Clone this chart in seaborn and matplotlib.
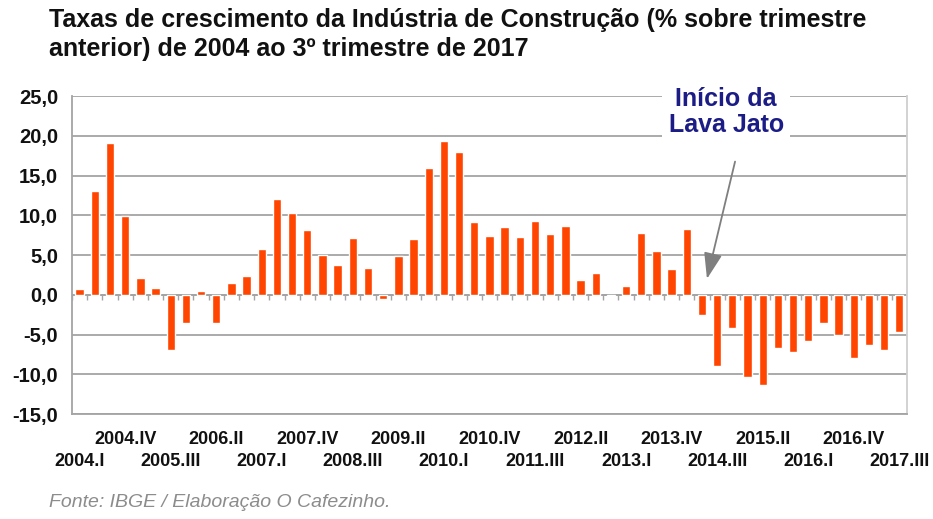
import numpy as np
import pandas as pd
import matplotlib
matplotlib.use("Agg")
import matplotlib.pyplot as plt
import seaborn as sns

# Quarterly growth of construction industry (% over previous quarter)
years = list(range(2004, 2018))
roman = ["I", "II", "III", "IV"]
quarters = [f"{y}.{r}" for y in years for r in roman][:55]

growth = [0.7, 13.1, 19.1, 9.9,
          2.1, 0.8, -7.0, -3.5,
          0.5, -3.5, 1.5, 2.4,
          5.7, 12.1, 10.3, 8.2,
          5.0, 3.8, 7.1, 3.4,
          -0.5, 4.9, 7.0, 16.0,
          19.4, 17.9, 9.2, 7.4,
          8.5, 7.3, 9.3, 7.6,
          8.6, 1.8, 2.8, -0.1,
          1.1, 7.8, 5.5, 3.3,
          8.3, -2.6, -8.9, -4.2,
          -10.3, -11.3, -6.7, -7.2,
          -5.8, -3.5, -5.0, -7.9,
          -6.3, -7.0, -4.7]

label_step = 3
yticks = [25, 20, 15, 10, 5, 0, -5, -10, -15]

df = pd.DataFrame({"trimestre": quarters, "taxa": growth})

sns.set_theme(style="white")
plt.rcParams["font.family"] = ["Liberation Sans", "DejaVu Sans"]

grid_col = "#a4a4a4"

fig = plt.figure(figsize=(9.33, 5.19), dpi=100)
ax = fig.add_axes([0.0772, 0.2023, 0.8948, 0.6127])

sns.barplot(data=df, x="trimestre", y="taxa", color="#ff4500",
            saturation=1, width=0.55, ax=ax)

ax.set_ylim(-15, 25)
ax.set_xlim(-0.5, len(quarters) - 0.5)
ax.set_yticks(yticks)
ax.set_yticklabels([f"{v:.1f}".replace(".", ",") for v in yticks],
                   fontsize=14.5, fontweight="bold", color="#111111")
ax.yaxis.grid(True, color=grid_col, linewidth=1.3)
ax.set_axisbelow(True)
ax.tick_params(axis="y", length=0, pad=10)

# staggered category labels: upper row on main axis, lower row on a secondary one
pos = list(range(0, len(quarters), label_step))
upper = pos[1::2]
lower = pos[0::2]
ax.set_xticks(upper)
ax.set_xticklabels([quarters[p] for p in upper], fontsize=13,
                   fontweight="bold", color="#111111")
ax.tick_params(axis="x", which="major", length=0, pad=12.5)
ax.set_xticks(np.arange(len(quarters) + 1) - 0.5, minor=True)
ax.tick_params(axis="x", which="minor", length=5, color=grid_col, width=1,
               direction="out")

sec = ax.secondary_xaxis("bottom")
sec.set_xticks(lower)
sec.set_xticklabels([quarters[p] for p in lower], fontsize=13,
                    fontweight="bold", color="#111111")
sec.tick_params(axis="x", length=0, pad=28)
sec.spines["bottom"].set_visible(False)

# small ticks on the zero line
ax.vlines(np.arange(len(quarters) + 1) - 0.5, -0.7, 0, color=grid_col,
          linewidth=1, zorder=1)
ax.axhline(0, color=grid_col, linewidth=1.3, zorder=0)

ax.spines["top"].set_visible(False)
for s in ["left", "bottom", "right"]:
    ax.spines[s].set_color(grid_col)
    ax.spines[s].set_linewidth(1.3)
ax.spines["right"].set_color("#cfcfcf")
ax.set_xlabel("")
ax.set_ylabel("")

ax.text(42.6, 23.0, "Início da\nLava Jato", ha="center", va="center",
        fontsize=18, fontweight="bold", color="#1c1c86", linespacing=1.1,
        bbox=dict(boxstyle="square,pad=0.25", fc="white", ec="none"))
ax.annotate("", xy=(41.33, 2.0), xytext=(43.18, 16.75),
            arrowprops=dict(arrowstyle="-|>,head_width=0.28,head_length=0.8",
                            mutation_scale=20, color="#7f7f7f", lw=1.3,
                            shrinkA=0, shrinkB=0))

fig.text(0.052, 0.985,
         "Taxas de crescimento da Indústria de Construção (% sobre trimestre\n"
         "anterior) de 2004 ao 3º trimestre de 2017",
         ha="left", va="top", fontsize=18, fontweight="bold",
         color="#111111", linespacing=1.25)
fig.text(0.052, 0.023, "Fonte: IBGE / Elaboração O Cafezinho.",
         ha="left", va="baseline", fontsize=14, style="italic", color="#8c8c8c")

fig.savefig("out.png", dpi=100)
